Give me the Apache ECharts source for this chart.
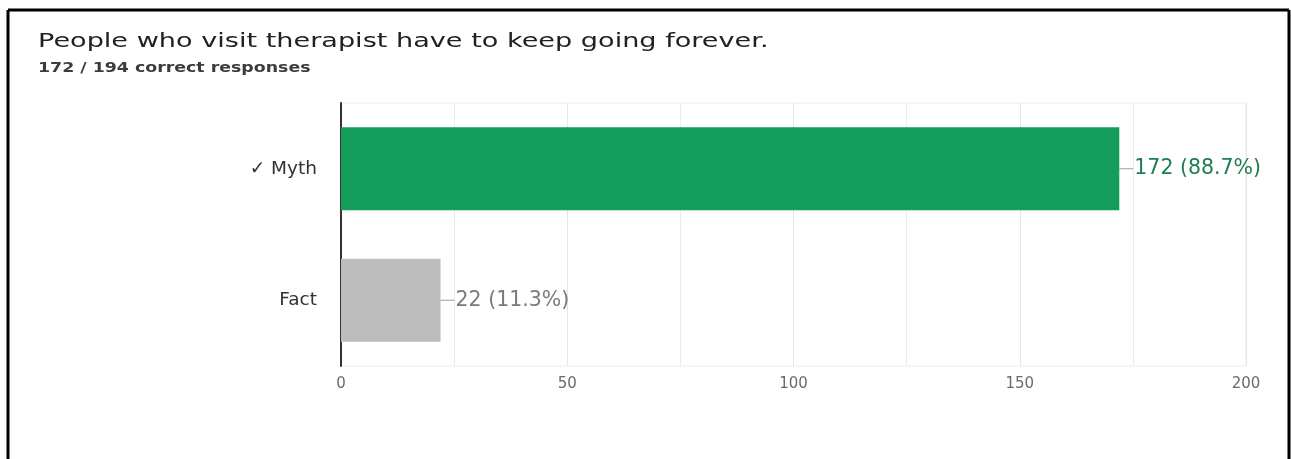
<!DOCTYPE html>
<html>
<head>
<meta charset="utf-8">
<script src="https://cdn.jsdelivr.net/npm/echarts@6/dist/echarts.min.js"></script>
<style>
html,body{margin:0;padding:0;background:#fff;}
#c{width:1291px;height:459px;}
</style>
</head>
<body>
<div id="c"></div>
<script>
var titleText = 'People who visit therapist have to keep going forever.';
var subtitleText = '172 / 194 correct responses';
var categories = ['\u2713 Myth', 'Fact'];
var values = [172, 22];
var barColors = ['#139c5a', '#bdbdbd'];
var labelColors = ['#1e7d52', '#7a7a7a'];
var total = values.reduce(function(a,b){return a+b;},0);

var chart = echarts.init(document.getElementById('c'), null, {renderer:'canvas'});
var fontFam = '"DejaVu Sans", Verdana, sans-serif';
chart.setOption({
  backgroundColor:'#fff',
  animation:false,
  graphic:[
    {type:'line',shape:{x1:8,y1:10,x2:1289,y2:10},style:{stroke:'#000',lineWidth:3}},
    {type:'line',shape:{x1:8,y1:10,x2:8,y2:459},style:{stroke:'#000',lineWidth:3}},
    {type:'line',shape:{x1:1289,y1:10,x2:1289,y2:459},style:{stroke:'#000',lineWidth:3}},
    {type:'text',x:38,y:42,scaleX:1.39,
      style:{text:titleText,font:'19.5px "DejaVu Sans", sans-serif',fill:'#202124',textVerticalAlign:'middle',verticalAlign:'middle'}},
    {type:'text',x:38,y:68,scaleX:1.24,
      style:{text:subtitleText,font:'bold 14px "DejaVu Sans", sans-serif',fill:'#3c3c3c',textVerticalAlign:'middle',verticalAlign:'middle'}}
  ],
  grid:{left:341,right:45,top:103,bottom:93,show:true,borderColor:'#ececec',borderWidth:1},
  xAxis:{
    type:'value',min:0,max:200,interval:50,
    axisLine:{show:false},axisTick:{show:false},
    axisLabel:{fontFamily:fontFam,fontSize:15,color:'#6a6a6a',margin:11},
    splitLine:{lineStyle:{color:'#e6e6e6'}},
    minorTick:{show:false,splitNumber:2},
    minorSplitLine:{show:true,lineStyle:{color:'#ececec'}}
  },
  yAxis:{
    type:'category',data:categories,inverse:true,
    axisLine:{show:true,lineStyle:{color:'#333',width:2}},
    axisTick:{show:false},
    axisLabel:{fontFamily:fontFam,fontSize:18.5,color:'#333',margin:24},
    splitLine:{show:false}
  },
  series:[{
    type:'bar',
    barWidth:83,
    data:values.map(function(v,i){
      return {
        value:v,
        itemStyle:{color:barColors[i]},
        label:{
          show:true,position:'right',distance:0,
          formatter:'{l|}{t|'+v+' ('+(v/total*100).toFixed(1)+'%)}',
          rich:{
            l:{width:14,height:1,backgroundColor:'#9e9e9e'},
            t:{fontFamily:fontFam,fontSize:20.5,color:labelColors[i],padding:[0,0,0,1]}
          }
        }
      };
    })
  }]
});
</script>
</body>
</html>
